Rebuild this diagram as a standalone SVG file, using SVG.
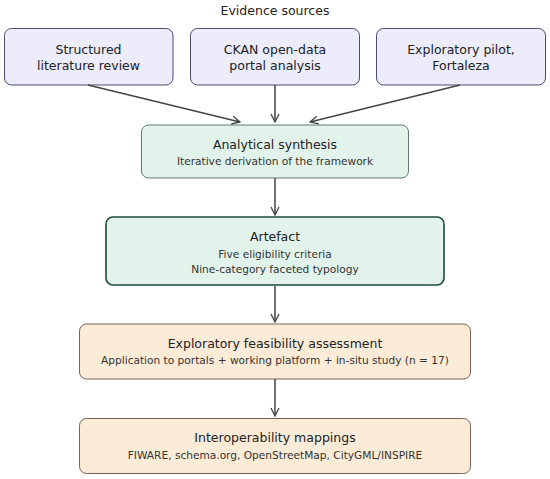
<svg xmlns="http://www.w3.org/2000/svg" width="550" height="479" viewBox="0 0 550 479">
<defs>
<marker id="arr" viewBox="0 0 10 10" refX="9" refY="5" markerWidth="10" markerHeight="10" markerUnits="userSpaceOnUse" orient="auto">
<path d="M1,1 L9,5 L1,9" fill="none" stroke="#444" stroke-width="1.3"/>
</marker>
<style>
text{font-family:"DejaVu Sans",sans-serif;text-anchor:middle;fill:#222}
.src rect{fill:#ececfa;stroke:#4b4b78;stroke-width:1}
.grn rect{fill:#e2f3ec;stroke:#5f7a6c;stroke-width:1}
.art rect{fill:#e2f3ec;stroke:#1f4a38;stroke-width:1.6}
.org rect{fill:#fbebd7;stroke:#7a6252;stroke-width:1}
.t{font-size:12.5px}
.s{font-size:10.6px;fill:#333}
.c line{stroke:#444;stroke-width:1.5;marker-end:url(#arr)}
</style>
</defs>
<rect width="550" height="479" fill="#ffffff"/>
<text x="275" y="15" class="t">Evidence sources</text>
<g id="lit" class="src"><rect x="4.5" y="28.5" width="168.5" height="56.5" rx="7"/><text x="88.5" y="53.5" class="t">Structured</text><text x="88.5" y="69.5" class="t">literature review</text></g>
<g id="ckan" class="src"><rect x="190.5" y="28.5" width="169" height="56.5" rx="7"/><text x="275" y="53.5" class="t">CKAN open-data</text><text x="275" y="69.5" class="t">portal analysis</text></g>
<g id="pilot" class="src"><rect x="376.5" y="28.5" width="169" height="56.5" rx="7"/><text x="461" y="53.5" class="t">Exploratory pilot,</text><text x="461" y="69.5" class="t">Fortaleza</text></g>
<g id="synth" class="grn"><rect x="141.5" y="125" width="267" height="53" rx="7"/><text x="275" y="149" class="t">Analytical synthesis</text><text x="275" y="165" class="s">Iterative derivation of the framework</text></g>
<g id="artefact" class="art"><rect x="106" y="217" width="338" height="68" rx="7"/><text x="275" y="241" class="t">Artefact</text><text x="275" y="258" class="s">Five eligibility criteria</text><text x="275" y="273" class="s">Nine-category faceted typology</text></g>
<g id="feas" class="org"><rect x="79.5" y="324" width="391" height="55" rx="7"/><text x="275" y="348" class="t">Exploratory feasibility assessment</text><text x="275" y="364" class="s">Application to portals + working platform + in-situ study (n = 17)</text></g>
<g id="interop" class="org"><rect x="79.5" y="418.5" width="391" height="55" rx="7"/><text x="275" y="442" class="t">Interoperability mappings</text><text x="275" y="459" class="s">FIWARE, schema.org, OpenStreetMap, CityGML/INSPIRE</text></g>
<g id="connectors" class="c">
<line x1="88" y1="85" x2="240" y2="122"/>
<line x1="275" y1="85" x2="275" y2="122"/>
<line x1="460" y1="85" x2="310" y2="122"/>
<line x1="275" y1="178" x2="275" y2="215"/>
<line x1="275" y1="286" x2="275" y2="322"/>
<line x1="275" y1="379" x2="275" y2="416"/>
</g>
</svg>
